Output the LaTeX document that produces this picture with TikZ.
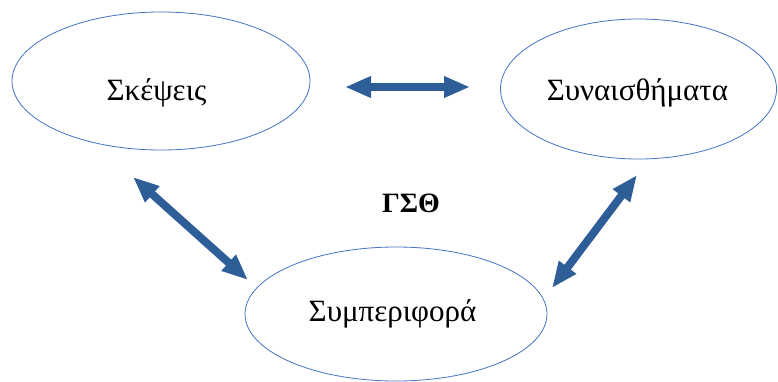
\documentclass[tikz,border=0pt]{standalone}
\usepackage{fontspec}
\setmainfont{Liberation Serif}
\usetikzlibrary{arrows.meta,shapes.geometric}
\definecolor{ovalblue}{RGB}{68,114,196}
\definecolor{arrowblue}{RGB}{46,94,152}

\begin{document}
\begin{tikzpicture}[x=1pt, y=-1pt,
  oval/.style={draw=ovalblue, line width=0.8pt, ellipse, inner sep=0pt},
  word/.style={anchor=base, font=\fontsize{31}{36}\selectfont},
  link/.style={arrowblue, line width=8pt, {Triangle[length=26pt,width=20pt]}-{Triangle[length=26pt,width=20pt]}}]
\useasboundingbox (0,0) rectangle (778,381);
% the three ovals
\node[oval, minimum width=298pt, minimum height=138pt] (thoughts) at (161,81) {};
\node[oval, minimum width=276pt, minimum height=140pt] (feelings) at (638.5,89) {};
\node[oval, minimum width=302pt, minimum height=134pt] (behaviour) at (396,314) {};
\node[word] (thoughtsText) at (156.5,100) {Σκέψεις};
\node[word] (feelingsText) at (637.5,100) {Συναισθήματα};
\node[word] (behaviourText) at (392.5,321) {Συμπεριφορά};
\node[anchor=base, font=\fontsize{28}{32}\selectfont\bfseries] (gso) at (411,212) {ΓΣΘ};
% arrow ends
\coordinate (tfA) at (345,87);
\coordinate (tfB) at (470,87);
\coordinate (tbA) at (133,177);
\coordinate (tbB) at (248,280);
\coordinate (fbA) at (637,175);
\coordinate (fbB) at (552,288);
\draw[link] (tfA) -- (tfB);
\draw[link] (tbA) -- (tbB);
\draw[link] (fbA) -- (fbB);
\end{tikzpicture}
\end{document}
